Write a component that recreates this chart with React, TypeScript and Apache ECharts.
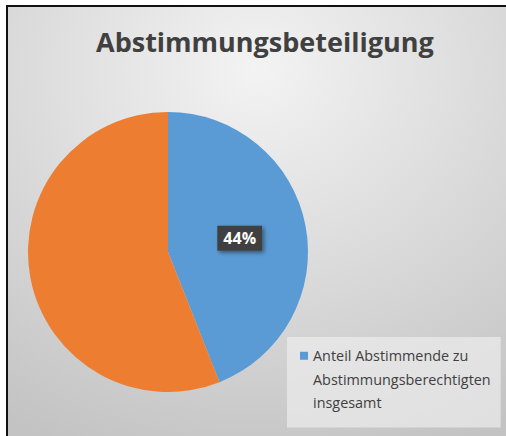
import React, { useEffect, useRef } from "react";
import * as echarts from "echarts";

const title = "Abstimmungsbeteiligung";
const categories = ["Anteil Abstimmende zu Abstimmungsberechtigten insgesamt", "Rest"];
const values = [44, 56];
const colors = ["#5b9bd5", "#ed7d31"];
const legendLines = ["Anteil Abstimmende zu", "Abstimmungsberechtigten", "insgesamt"];

export default function App() {
  const ref = useRef<HTMLDivElement>(null);
  useEffect(() => {
    if (!ref.current) return;
    const chart = echarts.init(ref.current, undefined, { renderer: "svg" });
    const lh = 23.5;
    const ih = lh * legendLines.length;
    const c = lh / 2;
    const iconPath = `path://M0 0L0.01 0M0 ${c - 4}L8 ${c - 4}L8 ${c + 4}L0 ${c + 4}ZM0 ${ih}L0.01 ${ih}`;
    chart.setOption({
      animation: false,
      graphic: [
        {
          type: "rect",
          shape: { x: 7, y: 6, width: 499, height: 430 },
          style: {
            fill: {
              type: "radial",
              x: 0.5,
              y: 0.15,
              r: 0.95,
              colorStops: [
                { offset: 0, color: "#f3f3f3" },
                { offset: 1, color: "#c3c3c3" },
              ],
            },
          },
          z: -10,
          silent: true,
        },
        { type: "line", shape: { x1: 6, y1: 6, x2: 506, y2: 6 }, style: { stroke: "#111", lineWidth: 2 }, silent: true },
        { type: "line", shape: { x1: 7, y1: 5, x2: 7, y2: 436 }, style: { stroke: "#111", lineWidth: 2 }, silent: true },
      ],
      title: {
        text: title,
        left: 91,
        top: 23,
        textStyle: {
          fontFamily: "Open Sans",
          fontWeight: "bold",
          fontSize: 27,
          color: "#404040",
        },
      },
      legend: {
        data: [categories[0]],
        left: 287,
        top: 337,
        orient: "vertical",
        backgroundColor: "rgba(236,236,236,0.7)",
        padding: [7, 10, 13, 13],
        itemWidth: 8,
        itemHeight: ih,
        icon: iconPath,
        symbolKeepAspect: false,
        formatter: () => legendLines.join("\n"),
        textStyle: {
          fontFamily: "Open Sans",
          fontSize: 14.4,
          color: "#404040",
          lineHeight: lh,
        },
      },
      series: [
        {
          type: "pie",
          center: [168, 252],
          radius: 140,
          startAngle: 90,
          clockwise: true,
          label: { show: false },
          labelLine: { show: false },
          data: values.map((v, i) => ({
            name: categories[i],
            value: v,
            itemStyle: { color: colors[i] },
            label:
              i === 0
                ? {
                    show: true,
                    position: "inside",
                    formatter: (p: any) => Math.round(p.percent) + "%",
                    color: "#ffffff",
                    fontFamily: "Open Sans",
                    fontWeight: "bold",
                    fontSize: 16,
                    backgroundColor: "#404040",
                    padding: [5, 6, 4, 6],
                    shadowColor: "rgba(0,0,0,0.45)",
                    shadowBlur: 4,
                    shadowOffsetX: 2,
                    shadowOffsetY: 2,
                  }
                : { show: false },
          })),
        },
      ],
    });
    return () => chart.dispose();
  }, []);
  return (
    <div
      ref={ref}
      style={{ position: "absolute", left: 0, top: 0, width: 506, height: 436 }}
    />
  );
}
